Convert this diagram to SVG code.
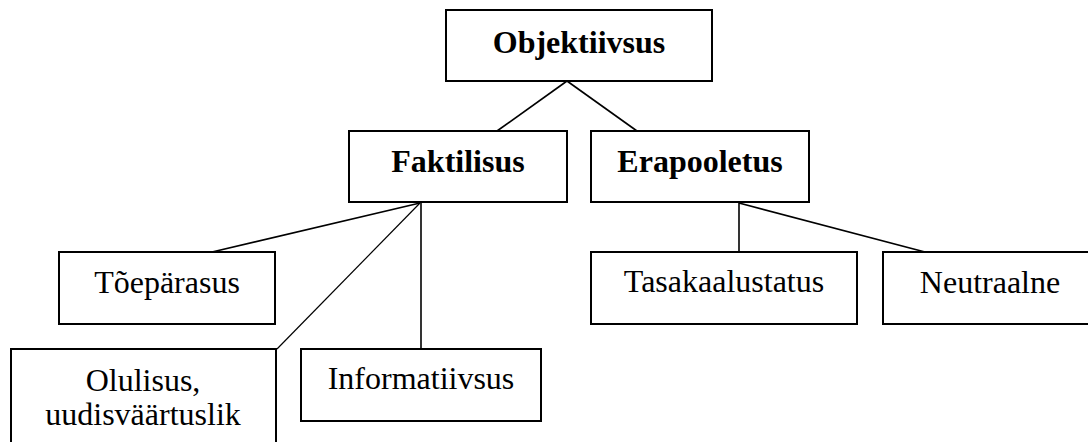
<svg xmlns="http://www.w3.org/2000/svg" width="1088" height="442" viewBox="0 0 1088 442">
<style>
.box{fill:#fff;stroke:#000;stroke-width:2}
.t{font-family:"Liberation Serif","Times New Roman",serif;font-size:32px;fill:#000;text-anchor:middle}
.b{font-weight:bold}
.c{stroke:#000;stroke-width:1.6;fill:none}
</style>
<rect width="1088" height="442" fill="#fff"/>
<g id="connectors">
<line class="c" x1="567" y1="81" x2="497" y2="131"/>
<line class="c" x1="567" y1="81" x2="637" y2="131"/>
<line class="c" x1="420" y1="203" x2="212" y2="252"/>
<line class="c" x1="420" y1="203" x2="277" y2="349" style="stroke-width:1.2"/>
<line class="c" x1="421" y1="203" x2="421" y2="349"/>
<line class="c" x1="739" y1="203" x2="739" y2="252"/>
<line class="c" x1="739" y1="203" x2="925" y2="252"/>
</g>
<g id="objektiivsus">
<rect class="box" x="446" y="10" width="266" height="71"/>
<text class="t b" x="579" y="53">Objektiivsus</text>
</g>
<g id="faktilisus">
<rect class="box" x="349" y="131" width="218" height="71"/>
<text class="t b" x="458" y="172">Faktilisus</text>
</g>
<g id="erapooletus">
<rect class="box" x="591" y="131" width="218" height="71"/>
<text class="t b" x="700" y="172">Erapooletus</text>
</g>
<g id="toeparasus">
<rect class="box" x="59" y="252" width="216" height="72"/>
<text class="t" x="167" y="293">Tõepärasus</text>
</g>
<g id="olulisus">
<rect class="box" x="11" y="349" width="265" height="110"/>
<text class="t" x="143" y="391">Olulisus,</text>
<text class="t" x="143" y="425">uudisväärtuslik</text>
</g>
<g id="informatiivsus">
<rect class="box" x="301" y="349" width="240" height="72"/>
<text class="t" x="421" y="389">Informatiivsus</text>
</g>
<g id="tasakaalustatus">
<rect class="box" x="591" y="252" width="266" height="72"/>
<text class="t" x="724" y="292">Tasakaalustatus</text>
</g>
<g id="neutraalne">
<rect class="box" x="883" y="252" width="214" height="72"/>
<text class="t" x="990" y="293">Neutraalne</text>
</g>
</svg>
